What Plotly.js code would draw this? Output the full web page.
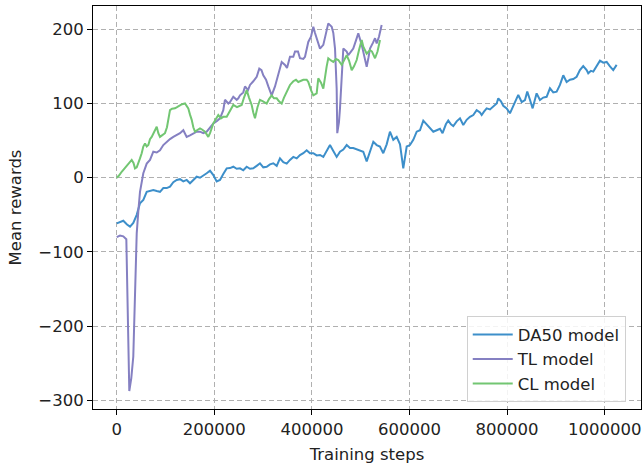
<!DOCTYPE html>
<html>
<head>
<meta charset="utf-8">
<script src="https://cdn.plot.ly/plotly-3.0.1.min.js"></script>
<style>html,body{margin:0;padding:0;background:#fff;}#chart{width:644px;height:466px;}</style>
</head>
<body>
<div id="chart"></div>
<script>
// DA50 model
const da50Steps = [0,6800,13500,21100,27300,34000,41000,47700,54500,61500,68200,75000,82000,88700,95500,102500,109200,116000,123000,129700,136500,143400,150200,157000,163900,170700,177500,184400,191200,198000,204900,211700,218400,225400,232200,238900,245900,252700,259400,266400,273200,279900,286900,293600,300400,307400,314100,320900,327900,334600,341400,348400,355100,361900,368900,375600,382400,389300,396100,402900,409800,416600,423400,430300,437100,443900,450800,457600,464400,471300,478100,484800,491800,498600,505300,512300,519100,525900,532800,539500,546300,553300,560000,566800,573800,580600,587300,594300,601000,607800,614800,621500,628300,635300,642000,648800,655800,662500,667800,674600,679500,685000,689800,696700,703500,710300,717200,724000,730800,737700,744500,748000,752700,758200,765000,771700,778700,782000,787500,792200,799200,805900,812700,819700,823000,830000,836700,841400,846900,852400,860600,867400,874200,881100,887900,894700,901600,908400,915200,922100,928900,935700,942600,949300,956100,963100,966400,971900,976700,983600,990400,997100,1004100,1010900,1017600,1024600];
const da50Rewards = [-61.5,-60,-58,-63,-66,-61,-50,-34.5,-30,-19,-18,-16.5,-18,-19,-14,-14,-12,-6,-3,-2,-5,-3,-7.5,-3,1.3,0,3.6,6,9.4,3.6,-5,-3,5,12.6,13,14.8,12,12.6,10,14.8,12,12.6,16,19.4,14,14.8,18,19.4,16,26,21,19,24,28,26,30.6,33,37,33,33,30,30.6,28,36,44,36,28,35,38,44,40,40,38,37,35,22,35,48.5,44,42,33,45,62,51,55,45,12.6,42,44,51,62,64,77,72,66.5,62,64,66,60,72,77,72,69.7,76,80,71,78,82,84.5,91,88,84.5,89,93.5,92,96.6,100,107,103,97,93.5,86.8,98,107,111.5,102,104.7,116,105,93.5,113.7,104.7,108,109,120.5,115,116,125,138,129,132,133,136,145,150.5,145,140.7,144,143,150,157.7,155,156,150,145,152];

// TL model
const tlSteps = [0,6800,13500,19700,25800,29900,34000,37500,41000,44300,47700,54500,61500,68200,75000,82000,88700,95500,102500,109200,116000,123000,129700,136500,143400,150200,157000,163900,170700,177500,184400,191200,198000,204900,211700,218400,221800,228700,232200,238900,245900,249200,252700,259400,262900,269100,273200,279900,286900,292200,296700,300400,306000,310700,317600,324400,331200,338100,344900,349000,355100,361900,365400,371500,375600,382400,385900,392600,398200,402900,406400,409800,416600,423400,429000,433600,440600,443900,447400,450800,452000,455500,457600,460700,464400,471300,474600,480100,484800,490400,495100,502100,506800,512300,516000,519100,525300,529400,532800,537500,543000];
const tlRewards = [-80,-78,-79,-83,-287.5,-270,-241,-150,-75,-45,-19,6,19,24,35,34,37,44,48.5,52,55,57,60,64,55,57,60,62,62,60,62,68,73,76,80,91,105,100,102,109,105,107,111,115,123,118,125,130,136,147,145,138,132,123,111,123,138,156,152,148,163,163,170,170,161,160,163,183,190,203.5,195,188,174,179,195,208,203.5,195,174,120,60,75,93.5,140,174,170,165,170,174,185,194.6,179,165,149.6,162,174,182,188,181,190,205.8];

// CL model
const clSteps = [0,4700,10200,15000,20500,25200,30700,34400,37500,41000,44300,47700,51200,54500,58000,61500,64800,68200,71700,75000,78500,82000,85300,88700,92800,98900,103000,105700,109200,113400,119500,123600,129700,133800,140000,144000,146700,150200,153700,157000,160400,164500,170700,174800,180900,187700,191200,198000,203500,208200,213700,218400,225400,232200,238900,246500,256100,260900,266400,271100,276600,279900,283400,288500,293600,299800,307400,312100,317600,322300,327900,332600,338100,342800,348400,355100,361900,367400,372100,377700,382400,389300,392600,398200,402900,409800,413100,418700,423400,430300,433600,439100,443900,449400,454100,461100,465800,471300,476100,481600,486300,491800,496600,502100,505400,512300,519100,523200,529400,534500,539600];
const clRewards = [0,3,8,12,17,20,24,20,12.6,14,21.6,26,33,42,46,42,44,52,55,60,64,68.7,60,55,57,60,68,80,91,93,93.5,95,98,99,100,97,93.5,85,78,68,62,64,66.5,65,62,55,60,73,80,84.5,80,82,82,90,98,95,98,108,118,108,98,88,80,95,105,103,100,106,111,107,107,103,100,108,116,125,130,132,129,131,132,132,129,118,111,113.7,134,128,120,150,161,158,156,160,158.6,152,158,165,158,145,150,158.6,172,185.6,176.5,167,172,170,161,170,185.6];

const seriesNames = ['DA50 model','TL model','CL model'];
const seriesColors = ['#3d8fca','#8580c2','#72c672'];
const xTicks = [0,200000,400000,600000,800000,1000000];
const yTicks = [-300,-200,-100,0,100,200];

const traces = [
  {x: da50Steps, y: da50Rewards},
  {x: tlSteps, y: tlRewards},
  {x: clSteps, y: clRewards}
].map((t, i) => ({
  x: t.x, y: t.y, type: 'scatter', mode: 'lines', name: seriesNames[i],
  line: {color: seriesColors[i], width: 2}
}));

const FS = 16.5;
const axisCommon = {
  showline: true, linecolor: '#000', linewidth: 1, mirror: true,
  ticks: 'outside', ticklen: 5, tickwidth: 1, tickcolor: '#000',
  showgrid: true, gridcolor: '#b0b0b0', griddash: '5px,3px', gridwidth: 1,
  zeroline: false,
  tickfont: {family: 'DejaVu Sans', size: FS, color: '#222'}
};

const layout = {
  width: 644, height: 466,
  margin: {l: 93, r: 3, t: 6, b: 57},
  paper_bgcolor: '#fff', plot_bgcolor: '#fff',
  font: {family: 'DejaVu Sans', size: FS, color: '#222'},
  xaxis: Object.assign({}, axisCommon, {
    range: [-48600, 1074500], tickvals: xTicks, tickformat: 'd',
    title: {text: 'Training steps', font: {family: 'DejaVu Sans', size: FS, color: '#222'}, standoff: 10}
  }),
  yaxis: Object.assign({}, axisCommon, {
    range: [-311.7, 231.4], tickvals: yTicks,
    title: {text: 'Mean rewards', font: {family: 'DejaVu Sans', size: FS, color: '#222'}, standoff: 12}
  }),
  showlegend: true,
  legend: {
    x: 0.682, y: 0.23, xanchor: 'left', yanchor: 'top',
    bgcolor: 'rgba(255,255,255,0.85)', bordercolor: '#d0d0d0', borderwidth: 1,
    font: {family: 'DejaVu Sans', size: FS, color: '#222'},
    itemwidth: 40
  }
};

Plotly.newPlot('chart', traces, layout, {staticPlot: true, displayModeBar: false});
</script>
</body>
</html>
